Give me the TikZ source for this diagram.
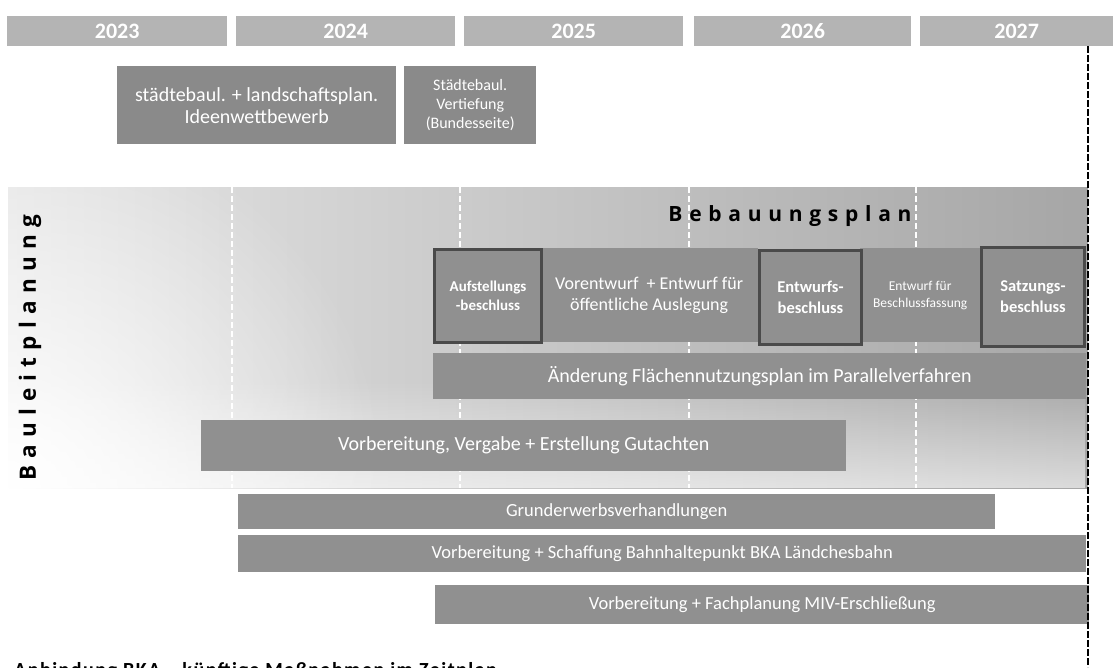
\documentclass[tikz,border=0pt]{standalone}
\usepackage{fontspec}
\setmainfont{Carlito}
\newfontfamily\spacedfont{Open Sans}[LetterSpace=32]
\usetikzlibrary{fadings}

\definecolor{yeargray}{HTML}{B4B4B4}
\definecolor{boxgray}{HTML}{8A8A8A}
\definecolor{bargray}{HTML}{909090}
\definecolor{framegray}{HTML}{4A4A4A}
\definecolor{bglight}{HTML}{E6E6E6}
\definecolor{bgdark}{HTML}{A6A6A6}

\tikzfading[name=cornerfade,inner color=transparent!0,outer color=transparent!100]

\begin{document}
\begin{tikzpicture}[x=1pt,y=-1pt,
  yearbar/.style={fill=yeargray,text=white,inner sep=0pt,anchor=north west,
    minimum height=30pt,font=\bfseries\fontsize{22}{22}\selectfont},
  topbox/.style={fill=boxgray,text=white,inner sep=0pt,anchor=north west,
    align=center,minimum height=78pt},
  planbar/.style={fill=bargray,text=white,inner sep=0pt,anchor=north west,
    align=center,font=\fontsize{20}{20}\selectfont},
  lowbar/.style={planbar,font=\fontsize{18.5}{18.5}\selectfont},
  milestone/.style={planbar,draw=framegray,line width=3pt,
    font=\bfseries\fontsize{16.5}{21}\selectfont},
  spaced/.style={text=black,inner sep=0pt,font=\spacedfont\bfseries\fontsize{21}{21}\selectfont}]

% Page frame, same proportions as the original sheet
\useasboundingbox (0,0) rectangle (1113,667);

% Year header
\foreach \yr/\xa/\xb in {2023/7/227,2024/236/455,2025/464/683,2026/694/911,2027/920/1113}
	\node[yearbar,minimum width={(\xb-\xa)*1pt}] (y\yr) at (\xa,16) {\yr};

% Competition boxes above the timeline
\node[topbox,minimum width=279pt,font=\fontsize{20}{22}\selectfont] (ideen) at (117,66)
	{städtebaul. + landschaftsplan.\\Ideenwettbewerb};
\node[topbox,minimum width=132pt,font=\fontsize{16}{19}\selectfont] (vertiefung) at (404,66)
	{Städtebaul.\\Vertiefung\\(Bundesseite)};

% Shaded field of the land use planning, fading out at the lower left
\coordinate (fieldnw) at (8,187);
\coordinate (fieldse) at (1088,488);
\shade[left color=bglight,right color=bgdark] (fieldnw) rectangle (fieldse);
\begin{scope}
	\clip (fieldnw) rectangle (fieldse);
	\fill[white,opacity=0.6,path fading=north] (8,380) rectangle (1088,488);
	\fill[white,path fading=cornerfade] (8,488) circle (380);
\end{scope}

% Year boundaries through the field
\foreach \x in {232,460,689,916}
	\draw[white,dash pattern=on 6pt off 3pt,line width=1.3pt] (\x,187) -- (\x,488);

% Side and section titles
\node[spaced,rotate=90,font=\spacedfont\bfseries\fontsize{22.5}{22.5}\selectfont] (bauleit) at (30,348) {Bauleitplanung};
\node[spaced] (bplan) at (790,216) {Bebauungsplan};

% Steps of the Bebauungsplan
\node[planbar,minimum width=218pt,minimum height=94pt,font=\fontsize{18}{21}\selectfont] (vorentwurf) at (540,248)
	{Vorentwurf \ + Entwurf für\\öffentliche Auslegung};
\node[planbar,minimum width=120pt,minimum height=94pt,font=\fontsize{13.5}{17}\selectfont] (beschlussf) at (860,248)
	{Entwurf für\\Beschlussfassung};
\node[milestone,minimum width=107pt,minimum height=93pt,font=\bfseries\fontsize{15}{19}\selectfont] (aufstellung) at (433,248)
	{Aufstellungs\\-beschluss};
\node[milestone,minimum width=102pt,minimum height=94pt] (entwurf) at (758,249)
	{Entwurfs-\\beschluss};
\node[milestone,minimum width=103pt,minimum height=99pt] (satzung) at (980,246)
	{Satzungs-\\beschluss};

% Parallel tasks
\node[planbar,minimum width=653pt,minimum height=46pt] (fnp) at (433,353)
	{Änderung Flächennutzungsplan im Parallelverfahren};
\node[planbar,minimum width=645pt,minimum height=51pt] (gutachten) at (201,420)
	{Vorbereitung, Vergabe + Erstellung Gutachten};
\node[lowbar,minimum width=757pt,minimum height=35pt] (grunderwerb) at (238,494)
	{Grunderwerbsverhandlungen};
\node[lowbar,minimum width=848pt,minimum height=37pt] (bahn) at (238,535)
	{Vorbereitung + Schaffung Bahnhaltepunkt BKA Ländchesbahn};
\node[lowbar,minimum width=654pt,minimum height=39pt] (miv) at (435,585)
	{Vorbereitung + Fachplanung MIV-Erschließung};

% End of the time frame
\coordinate (endtop) at (1088,46);
\coordinate (endbot) at (1088,667);
\draw[line width=2pt,dash pattern=on 7pt off 2pt] (endtop) -- (endbot);

% Cut off heading at the bottom edge
\node[text=black,inner sep=0pt,anchor=north west,
	font=\bfseries\fontsize{20}{20}\selectfont\addfontfeature{LetterSpace=7.5},
	text height=14pt] (footer) at (14,662) {Anbindung BKA – künftige Maßnahmen im Zeitplan};

\end{tikzpicture}
\end{document}
